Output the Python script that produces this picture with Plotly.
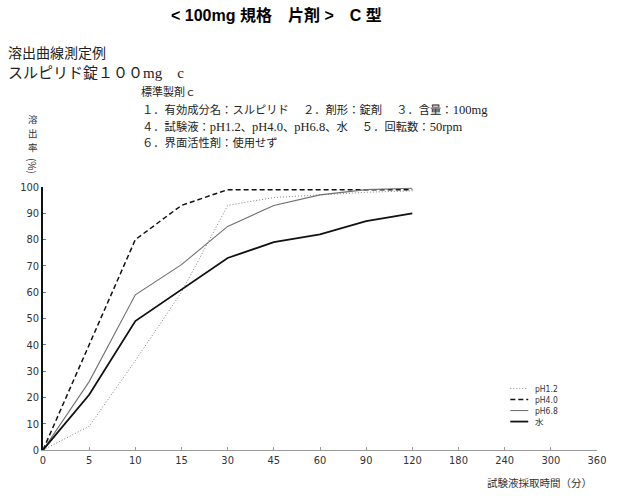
import plotly.graph_objects as go

# ---- data ----
categories = ["0", "5", "10", "15", "30", "45", "60", "90", "120", "180", "240", "300", "360"]
times = ["0", "5", "10", "15", "30", "45", "60", "90", "120"]
series_names = ["pH1.2", "pH4.0", "pH6.8", "水"]
ph12 = [0, 9, 34, 60, 93, 96, 97, 98, 98.5]
ph40 = [0, 40, 80, 93, 99, 99, 99, 99, 99]
ph68 = [0, 26, 59, 70.5, 85, 93, 97, 99, 99.5]
water = [0, 21, 49, 61, 73, 79, 82, 87, 90]
y_ticks = [0, 10, 20, 30, 40, 50, 60, 70, 80, 90, 100]
y_title_chars = ["溶", "出", "率"]

W, H = 618, 496
L, R, T, B = 43, 19, 187, 46
PW, PH = W - L - R, H - T - B

def px(x):
    return (x - L) / PW

def py(y):
    return (H - B - y) / PH

styles = [
    dict(color="#808080", width=1, dash="1px,2px"),
    dict(color="#111111", width=1.5, dash="5px,3px"),
    dict(color="#707070", width=1.1, dash="solid"),
    dict(color="#111111", width=1.8, dash="solid"),
]
values = [ph12, ph40, ph68, water]

fig = go.Figure()
for name, vals, st in zip(series_names, values, styles):
    fig.add_trace(go.Scatter(x=times, y=vals, mode="lines", name=name,
                             line=st, showlegend=False))

tick_font = dict(family="Liberation Sans Narrow, DejaVu Sans Condensed, Arial Narrow, sans-serif",
                 size=11, color="#333333")
cjk = "Liberation Serif, Noto Sans CJK JP, serif"

fig.update_layout(
    width=W, height=H,
    margin=dict(l=L, r=R, t=T, b=B),
    paper_bgcolor="white", plot_bgcolor="white",
    xaxis=dict(type="category", categoryorder="array", categoryarray=categories,
               range=[0, len(categories) - 1], showgrid=False, zeroline=False,
               showline=True, linecolor="#9a9a9a", linewidth=1,
               ticks="inside", ticklen=3, tickcolor="#9a9a9a",
               tickfont=tick_font, fixedrange=True),
    yaxis=dict(range=[0, 100], tickvals=y_ticks, showgrid=False, zeroline=False,
               showline=True, linecolor="#111111", linewidth=1.5,
               ticks="inside", ticklen=3, tickcolor="#777777",
               tickfont=tick_font, fixedrange=True),
)

def lat(s):
    return "<span style='font-size:12.5px'>" + s + "</span>"

ann = []
# title
ann.append(dict(text="<b>< 100mg 規格　片剤 >　C 型</b>", x=px(277), y=py(15),
                font=dict(family="Liberation Sans, Noto Sans CJK JP, sans-serif", size=16, color="#000"),
                xanchor="center", yanchor="middle"))
# header lines
ann.append(dict(text="溶出曲線測定例", x=px(6), y=py(53), xanchor="left", yanchor="middle",
                font=dict(family=cjk, size=14, color="#222")))
ann.append(dict(text="スルピリド錠１００mg　c", x=px(6), y=py(73), xanchor="left", yanchor="middle",
                font=dict(family=cjk, size=15, color="#222")))
ann.append(dict(text="標準製剤ｃ", x=px(139), y=py(92), xanchor="left", yanchor="middle",
                font=dict(family=cjk, size=11, color="#222")))
ann.append(dict(text="１．有効成分名：スルピリド　 ２．剤形：錠剤　 ３．含量：" + lat("100mg"),
                x=px(140), y=py(110), xanchor="left", yanchor="middle",
                font=dict(family=cjk, size=11.3, color="#222")))
ann.append(dict(text="４．試験液：" + lat("pH1.2") + "、" + lat("pH4.0") + "、" + lat("pH6.8")
                + "、水　 ５．回転数：" + lat("50rpm"),
                x=px(140), y=py(127), xanchor="left", yanchor="middle",
                font=dict(family=cjk, size=11.3, color="#222")))
ann.append(dict(text="６．界面活性剤：使用せず",
                x=px(140), y=py(143), xanchor="left", yanchor="middle",
                font=dict(family=cjk, size=11.3, color="#222")))
# y axis title (vertical, one character per annotation)
for i, ch in enumerate(y_title_chars):
    ann.append(dict(text=ch, x=px(33), y=py(119 + 14 * i),
                    xanchor="center", yanchor="middle",
                    font=dict(family="Noto Sans CJK JP, sans-serif", size=9.5, color="#333")))
ann.append(dict(text="(%)", x=px(33), y=py(166), textangle=90,
                xanchor="center", yanchor="middle",
                font=dict(family="Noto Sans CJK JP, sans-serif", size=10, color="#333")))
# x axis title
ann.append(dict(text="試験液採取時間（分）", x=px(541), y=py(482),
                xanchor="center", yanchor="middle",
                font=dict(family="Noto Sans CJK JP, sans-serif", size=10.5, color="#333")))

# manual compact legend (one text block, line spacing = 1.3 * font size)
leg_size = 8.5
leg_center = 405
step = leg_size * 1.3
n = len(series_names)
ann.append(dict(text="<br>".join(series_names), x=px(535), y=py(leg_center),
                xanchor="left", yanchor="middle", align="left",
                font=dict(family="Liberation Sans Narrow, DejaVu Sans Condensed, Noto Sans CJK JP, sans-serif",
                          size=leg_size, color="#333")))
shapes = []
for i, st in enumerate(styles):
    yy = leg_center + (i - (n - 1) / 2) * step
    shapes.append(dict(type="line", xref="paper", yref="paper",
                       x0=px(512), x1=px(530), y0=py(yy), y1=py(yy),
                       line=dict(color=st["color"], width=st["width"], dash=st["dash"])))

for a in ann:
    a.update(xref="paper", yref="paper", showarrow=False)

fig.update_layout(annotations=ann, shapes=shapes)
fig.write_html("out.html", config={"displayModeBar": False},
               post_script="document.body.style.margin='0';document.body.style.overflow='hidden';")
